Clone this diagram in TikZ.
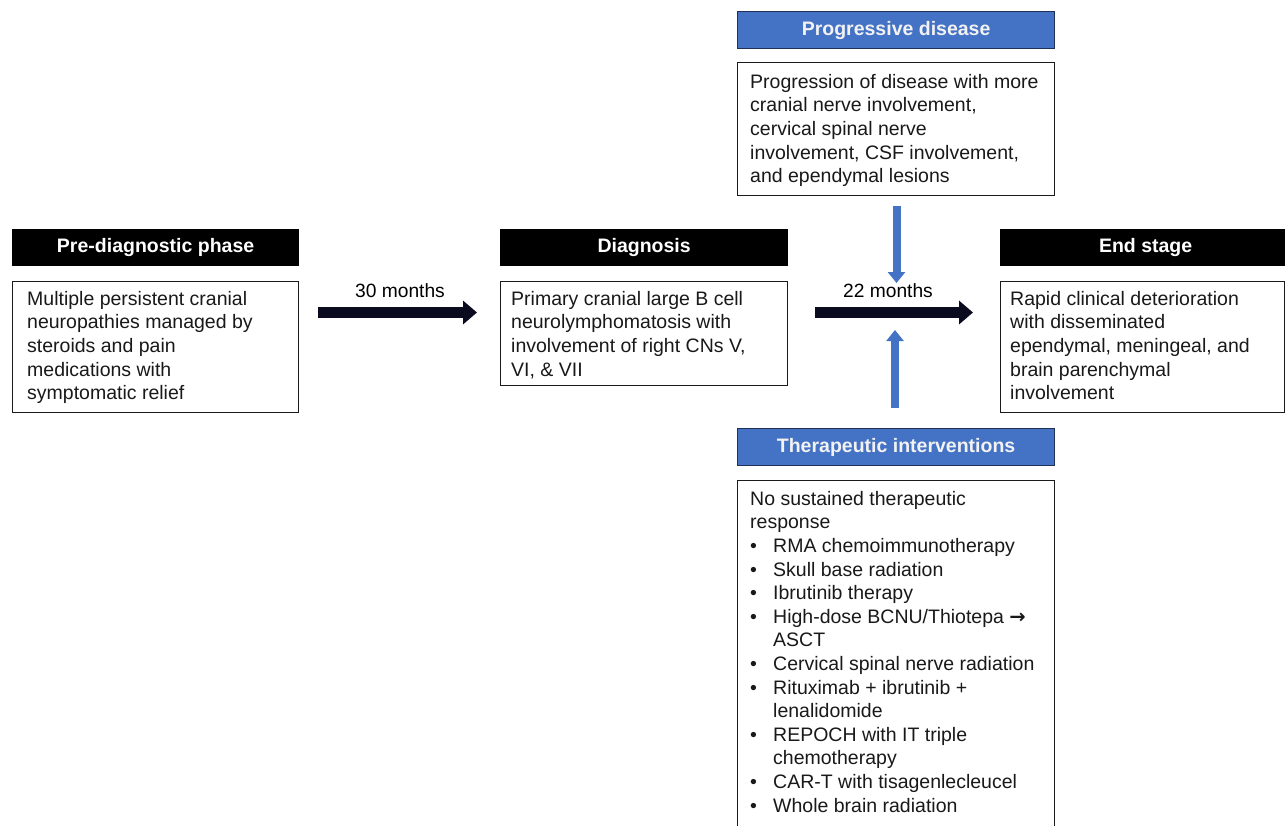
\documentclass[tikz,border=0pt]{standalone}
\usepackage{fontspec}
\setmainfont{Liberation Sans}
\newfontfamily\arrowfont{DejaVu Sans}
\usetikzlibrary{arrows.meta}
\definecolor{hblue}{HTML}{4472C4}
\definecolor{hborder}{HTML}{1F2F55}
\definecolor{arr}{HTML}{0B0B1F}
\definecolor{boxline}{HTML}{1A1A1A}
\begin{document}
\begin{tikzpicture}[x=1pt,y=-1pt,
  hdr/.style={draw=black, line width=1.2pt, fill=black, text=white,
    font=\fontsize{19.5}{23.6}\selectfont\bfseries, inner sep=0pt,
    minimum height=36pt, anchor=north west},
  bhdr/.style={hdr, fill=hblue, draw=hborder, minimum height=37pt, text=white!95!black},
  box/.style={draw=boxline, line width=1.3pt, anchor=north west, inner sep=0pt},
  txt/.style={anchor=north west, align=left, inner sep=0pt, text=black!90,
    font=\fontsize{19.5}{23.6}\selectfont},
  lbl/.style={anchor=base, inner sep=0pt, font=\fontsize{19.2}{23}\selectfont},
  blk/.style={draw=arr, line width=11pt, -{Triangle[width=23pt,length=14pt]}},
  bluearr/.style={draw=hblue, line width=8pt, -{Triangle[width=17pt,length=11pt]}}
]
\useasboundingbox (0,0) rectangle (1285,825);
\clip (0,0) rectangle (1285,825);
\fill[white] (0,0) rectangle (1285,825);

% headers
\node[hdr, minimum width=286pt] (prehdr) at (12,229) {Pre-diagnostic phase};
\node[hdr, minimum width=287pt] (diaghdr) at (500,229) {Diagnosis};
\node[hdr, minimum width=290pt] (endhdr) at (1000,229) {End stage};
\node[bhdr, minimum width=317pt] (proghdr) at (737,11) {Progressive disease};
\node[bhdr, minimum width=317pt] (therhdr) at (737,428) {Therapeutic interventions};

% bodies
\node[box, minimum width=286pt, minimum height=131pt] (prebody) at (12,281) {};
\node[box, minimum width=287pt, minimum height=104pt] (diagbody) at (500,281) {};
\node[box, minimum width=284pt, minimum height=131pt] (endbody) at (1000,281) {};
\node[box, minimum width=317pt, minimum height=133pt] (progbody) at (737,62) {};
\node[box, minimum width=317pt, minimum height=360pt] (therbody) at (737,480) {};

% texts (first baseline = top + 16.52)
\node[txt] (pretxt) at (27,288.5) {\strut Multiple persistent cranial\\neuropathies managed by\\steroids and pain\\medications with\\symptomatic relief};
\node[txt] (diagtxt) at (511,288.5) {\strut Primary cranial large B cell\\neurolymphomatosis with\\involvement of right CNs V,\\VI, \& VII};
\node[txt] (endtxt) at (1010,288.5) {\strut Rapid clinical deterioration\\with disseminated\\ependymal, meningeal, and\\brain parenchymal\\involvement};
\node[txt] (progtxt) at (750,71.5) {\strut Progression of disease with more\\cranial nerve involvement,\\cervical spinal nerve\\involvement, CSF involvement,\\and ependymal lesions};
\node[txt] (thertxt) at (750,488.5) {\strut No sustained therapeutic\\response\\
\makebox[23pt][l]{\textbullet}RMA chemoimmunotherapy\\
\makebox[23pt][l]{\textbullet}Skull base radiation\\
\makebox[23pt][l]{\textbullet}Ibrutinib therapy\\
\makebox[23pt][l]{\textbullet}High-dose BCNU/Thiotepa {\arrowfont\bfseries →}\\
\hspace*{23pt}ASCT\\
\makebox[23pt][l]{\textbullet}Cervical spinal nerve radiation\\
\makebox[23pt][l]{\textbullet}Rituximab + ibrutinib +\\
\hspace*{23pt}lenalidomide\\
\makebox[23pt][l]{\textbullet}REPOCH with IT triple\\
\hspace*{23pt}chemotherapy\\
\makebox[23pt][l]{\textbullet}CAR-T with tisagenlecleucel\\
\makebox[23pt][l]{\textbullet}Whole brain radiation};

% arrows
\coordinate (a1s) at (318,312.5);
\coordinate (a1e) at (477,312.5);
\coordinate (a2s) at (815,312.5);
\coordinate (a2e) at (973,312.5);
\coordinate (d1s) at (896.5,206);
\coordinate (d1e) at (896.5,283);
\coordinate (u1s) at (895,408);
\coordinate (u1e) at (895,330);
\draw[blk] (a1s) -- (a1e);
\draw[blk] (a2s) -- (a2e);
\draw[bluearr] (d1s) -- (d1e);
\draw[bluearr] (u1s) -- (u1e);
\node[lbl] (m30) at (400,297) {30 months};
\node[lbl] (m22) at (888,297) {22 months};
\end{tikzpicture}
\end{document}
